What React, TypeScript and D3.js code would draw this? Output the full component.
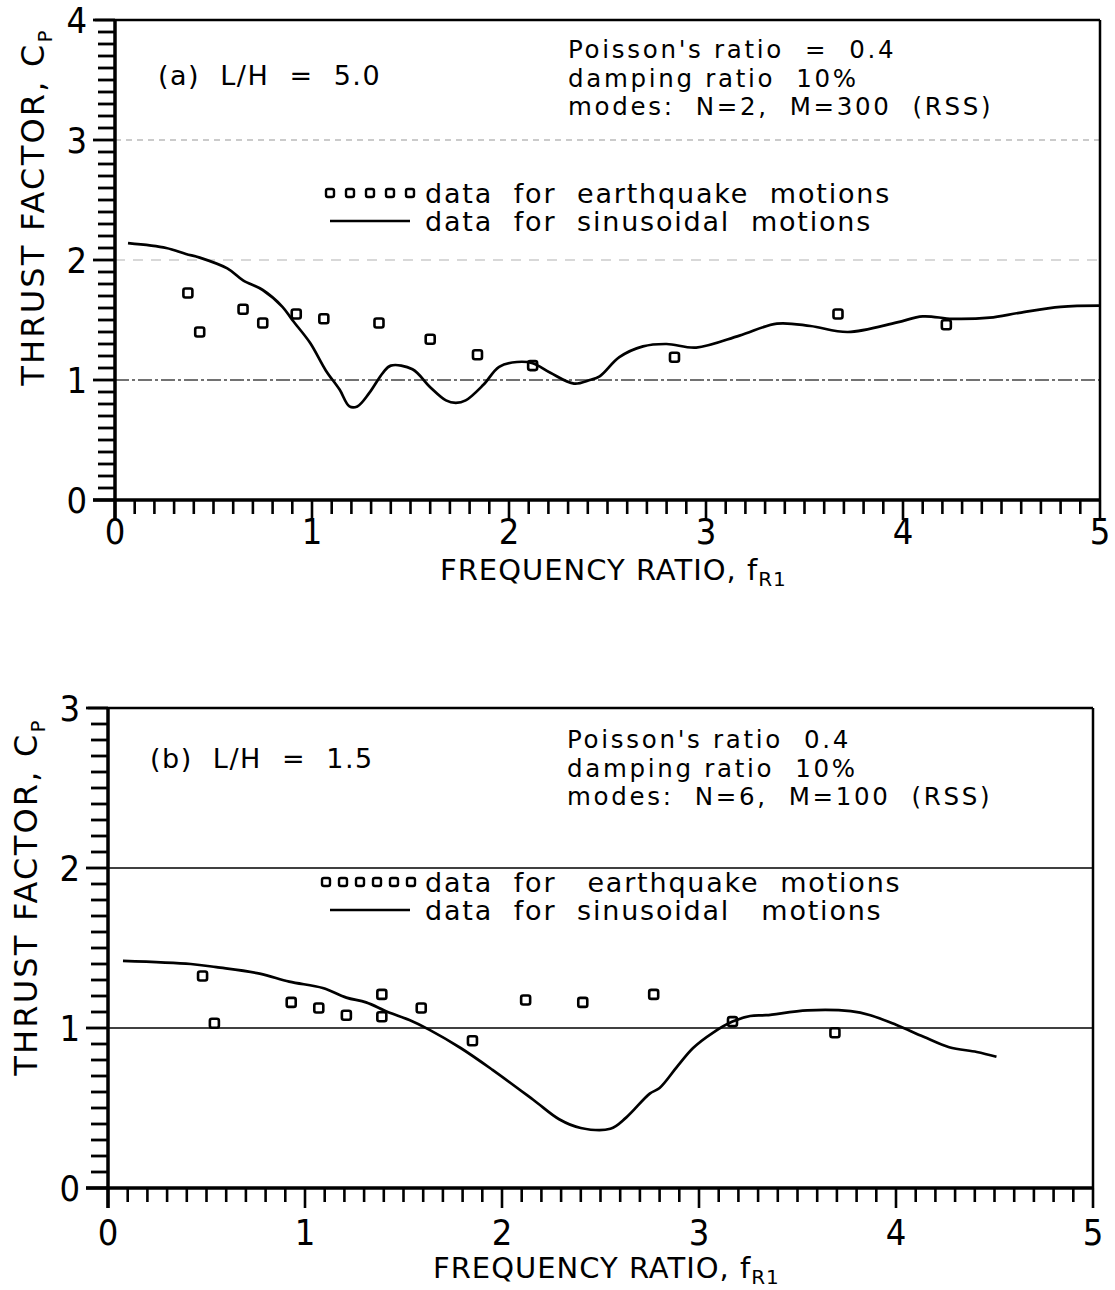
import React from 'react';
import * as d3 from 'd3';

// panel (a) L/H = 5.0
const topEqX = [0.37, 0.43, 0.65, 0.75, 0.92, 1.06, 1.34, 1.60, 1.84, 2.12, 2.84, 3.67, 4.22];
const topEqY = [1.725, 1.40, 1.59, 1.475, 1.55, 1.51, 1.475, 1.34, 1.21, 1.12, 1.19, 1.55, 1.46];
const topSinX = [0.066, 0.26, 0.36, 0.43, 0.57, 0.65, 0.75, 0.85, 0.90, 0.99, 1.07, 1.14, 1.19, 1.23, 1.29, 1.36, 1.40, 1.51, 1.60, 1.68, 1.73, 1.78, 1.87, 1.95, 2.04, 2.12, 2.21, 2.33, 2.41, 2.46, 2.56, 2.68, 2.80, 2.95, 3.17, 3.36, 3.53, 3.72, 3.97, 4.10, 4.25, 4.44, 4.59, 4.80, 5.0];
const topSinY = [2.14, 2.10, 2.05, 2.02, 1.93, 1.83, 1.75, 1.61, 1.50, 1.31, 1.08, 0.92, 0.78, 0.78, 0.89, 1.06, 1.12, 1.09, 0.94, 0.83, 0.81, 0.83, 0.96, 1.11, 1.15, 1.14, 1.06, 0.97, 1.00, 1.03, 1.19, 1.28, 1.30, 1.27, 1.37, 1.47, 1.45, 1.40, 1.48, 1.53, 1.51, 1.52, 1.56, 1.61, 1.62];
const topYTicks = [0, 1, 2, 3, 4];
const topNotes = ["Poisson's ratio  =  0.4", 'damping ratio  10%', 'modes:  N=2,  M=300  (RSS)'];

// panel (b) L/H = 1.5
const botEqX = [0.48, 0.54, 0.93, 1.07, 1.21, 1.39, 1.39, 1.59, 1.85, 2.12, 2.41, 2.77, 3.17, 3.69];
const botEqY = [1.325, 1.03, 1.16, 1.125, 1.08, 1.21, 1.07, 1.125, 0.92, 1.175, 1.16, 1.21, 1.04, 0.97];
const botSinX = [0.076, 0.42, 0.55, 0.77, 0.92, 1.09, 1.21, 1.31, 1.42, 1.53, 1.63, 1.79, 1.95, 2.16, 2.29, 2.40, 2.55, 2.63, 2.75, 2.80, 2.89, 2.97, 3.07, 3.17, 3.26, 3.34, 3.55, 3.77, 3.87, 4.00, 4.14, 4.27, 4.41, 4.51];
const botSinY = [1.42, 1.40, 1.38, 1.34, 1.29, 1.25, 1.19, 1.16, 1.10, 1.05, 0.99, 0.875, 0.74, 0.55, 0.43, 0.375, 0.37, 0.44, 0.59, 0.625, 0.76, 0.875, 0.97, 1.04, 1.075, 1.08, 1.11, 1.105, 1.08, 1.02, 0.945, 0.88, 0.85, 0.82];
const botYTicks = [0, 1, 2, 3];
const botNotes = ["Poisson's ratio  0.4", 'damping ratio  10%', 'modes:  N=6,  M=100  (RSS)'];

const xTicks = [0, 1, 2, 3, 4, 5];
const FONT = '"DejaVu Sans", sans-serif';
const NUMFONT = '"DejaVu Sans Condensed", "Liberation Sans Narrow", "DejaVu Sans", sans-serif';

type PanelProps = {
  x0: number; x1: number; yTop: number; yBot: number; yMax: number;
  eqX: number[]; eqY: number[]; sinX: number[]; sinY: number[];
  yTicks: number[]; notes: string[]; title: string;
  grid: { v: number; dash: string; color: string; w: number }[];
  legendY: number; legendX: number; legendStep: number; legendMarkers: number; legendText: string[];
  titleY: number; notesY: number; notesX: number; titleX: number;
  xLabelDy: number; xTickDy: number; yLabelShift: number;
};

const Panel = (p: PanelProps) => {
  const x = d3.scaleLinear().domain([0, 5]).range([p.x0, p.x1]);
  const y = d3.scaleLinear().domain([0, p.yMax]).range([p.yBot, p.yTop]);
  const line = d3.line<number>()
    .x((d, i) => x(p.sinX[i]))
    .y((d) => y(d))
    .curve(d3.curveCatmullRom);
  const xMinor = x.ticks(50);
  const yMinor = y.ticks(p.yMax * 10);
  const isMajor = (v: number) => Math.abs(v - Math.round(v)) < 1e-6;
  return (
    <g>
      {/* reference lines */}
      {p.grid.map((g, i) => (
        <line key={'g' + i} x1={x(0)} x2={x(5)} y1={y(g.v)} y2={y(g.v)}
          stroke={g.color} strokeWidth={g.w} strokeDasharray={g.dash} />
      ))}
      {/* frame */}
      <line x1={x(0) - 20} x2={x(5)} y1={y(p.yMax)} y2={y(p.yMax)} stroke="#000" strokeWidth={2.5} />
      <line x1={x(5)} x2={x(5)} y1={y(p.yMax)} y2={y(0)} stroke="#000" strokeWidth={2.5} />
      <line x1={x(0)} x2={x(0)} y1={y(p.yMax)} y2={y(0) + 20} stroke="#000" strokeWidth={3.5} />
      <line x1={x(0) - 22} x2={x(5)} y1={y(0)} y2={y(0)} stroke="#000" strokeWidth={3.5} />
      {/* y ticks */}
      {yMinor.map((v) => (
        <line key={'yt' + v} x1={x(0) - (isMajor(v) ? 22 : 17)} x2={x(0)} y1={y(v)} y2={y(v)}
          stroke="#000" strokeWidth={2.8} />
      ))}
      {/* x ticks */}
      {xMinor.map((v) => (
        <line key={'xt' + v} x1={x(v)} x2={x(v)} y1={y(0)} y2={y(0) + (isMajor(v) ? 20 : 14)}
          stroke="#000" strokeWidth={2.6} />
      ))}
      {p.yTicks.map((v) => (
        <text key={'yl' + v} x={x(0) - 28} y={y(v) + 13} textAnchor="end" fontSize={36} fontFamily={NUMFONT}>{v}</text>
      ))}
      {xTicks.map((v) => (
        <text key={'xl' + v} x={x(v)} y={y(0) + p.xTickDy} textAnchor="middle" fontSize={36} fontFamily={NUMFONT}>{v}</text>
      ))}
      {/* axis titles */}
      <text x={x(2.53)} y={y(0) + p.xLabelDy} textAnchor="middle" fontSize={29} fontFamily={FONT} letterSpacing={1}>
        FREQUENCY  RATIO,  f<tspan fontSize={20} dy={6}>R1</tspan>
      </text>
      <text transform={`translate(${x(0) - 71},${(y(0) + y(p.yMax)) / 2 + p.yLabelShift}) rotate(-90)`} textAnchor="middle"
        fontSize={32} fontFamily={FONT} letterSpacing={2.2}>
        THRUST  FACTOR,   C<tspan fontSize={20} dy={8}>P</tspan>
      </text>
      {/* data */}
      <path d={line(p.sinY) || ''} fill="none" stroke="#000" strokeWidth={2.7} />
      {p.eqX.map((v, i) => (
        <rect key={'eq' + i} x={x(v) - 4.5} y={y(p.eqY[i]) - 4.5} width={9} height={9} rx={2}
          fill="none" stroke="#000" strokeWidth={2.6} />
      ))}
      {/* annotations */}
      <text x={p.titleX} y={p.titleY} fontSize={27} fontFamily={FONT} letterSpacing={1.5}
        style={{ whiteSpace: 'pre' }}>{p.title}</text>
      {p.notes.map((t, i) => (
        <text key={'n' + i} x={p.notesX} y={p.notesY + i * 28.5} fontSize={24.5} fontFamily={FONT} letterSpacing={2.7}
          style={{ whiteSpace: 'pre' }}>{t}</text>
      ))}
      {d3.range(p.legendMarkers).map((i) => (
        <rect key={'lm' + i} x={p.legendX - 4 + i * p.legendStep} y={p.legendY - 4} width={8} height={8} rx={2}
          fill="none" stroke="#000" strokeWidth={2.4} />
      ))}
      <line x1={330} x2={410} y1={p.legendY + 28} y2={p.legendY + 28} stroke="#000" strokeWidth={2.4} />
      {p.legendText.map((t, i) => (
        <text key={'lt' + i} x={425} y={p.legendY + 10 + i * 28} fontSize={27} fontFamily={FONT} letterSpacing={1.8}
          style={{ whiteSpace: 'pre' }}>{t}</text>
      ))}
    </g>
  );
};

export default function App() {
  return (
    <svg width={1115} height={1290} style={{ position: 'absolute', left: 0, top: 0, background: '#fff' }}>
      <rect width={1115} height={1290} fill="#fff" />
      <Panel x0={115} x1={1100} yTop={20} yBot={500} yMax={4}
        eqX={topEqX} eqY={topEqY} sinX={topSinX} sinY={topSinY}
        yTicks={topYTicks} notes={topNotes} title="(a)  L/H  =  5.0"
        grid={[
          { v: 3, dash: '6 5', color: '#bbb', w: 1.5 },
          { v: 2, dash: '10 8', color: '#ccc', w: 1.5 },
          { v: 1, dash: '14 3 3 3', color: '#444', w: 1.5 },
        ]}
        legendY={193} legendX={330} legendStep={20} legendMarkers={5}
        legendText={['data  for  earthquake  motions', 'data  for  sinusoidal  motions']}
        titleX={158} titleY={85} notesX={568} notesY={58}
        xTickDy={44} xLabelDy={80} yLabelShift={-53} />
      <Panel x0={108} x1={1093} yTop={708} yBot={1188} yMax={3}
        eqX={botEqX} eqY={botEqY} sinX={botSinX} sinY={botSinY}
        yTicks={botYTicks} notes={botNotes} title="(b)  L/H  =  1.5"
        grid={[
          { v: 2, dash: '', color: '#000', w: 1.6 },
          { v: 1, dash: '', color: '#000', w: 1.6 },
        ]}
        legendY={882} legendX={326} legendStep={17} legendMarkers={6}
        legendText={['data  for   earthquake  motions', 'data  for  sinusoidal   motions']}
        titleX={150} titleY={768} notesX={567} notesY={748}
        xTickDy={57} xLabelDy={90} yLabelShift={-51} />
    </svg>
  );
}
